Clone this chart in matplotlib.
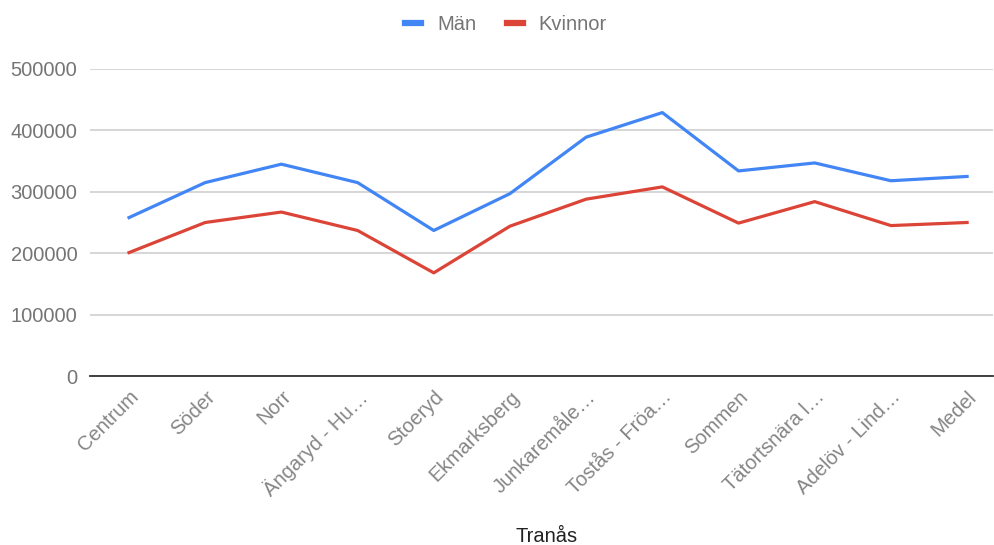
import matplotlib
matplotlib.use("Agg")
import matplotlib.pyplot as plt
from matplotlib.lines import Line2D

categories = ["Centrum", "Söder", "Norr", "Ängaryd - Hu…", "Stoeryd", "Ekmarksberg",
              "Junkaremåle…", "Tostås - Fröa…", "Sommen", "Tätortsnära l…",
              "Adelöv - Lind…", "Medel"]
man = [258000, 315000, 345000, 315000, 237000, 297000, 389000, 429000, 334000, 347000, 318000, 325000]
kvinnor = [201000, 250000, 267000, 237000, 168000, 244000, 288000, 308000, 249000, 284000, 245000, 250000]
yticks = [0, 100000, 200000, 300000, 400000, 500000]

plt.rcParams['font.family'] = ['Liberation Sans', 'DejaVu Sans']

fig = plt.figure(figsize=(9.95, 5.45), dpi=100)
ax = fig.add_axes([90/995, 169/545, (993-90)/995, (376-69)/545])

x = list(range(len(categories)))
blue = "#4285F4"
red = "#DB4437"
ax.plot(x, man, color=blue, lw=2.3, solid_joinstyle='round', zorder=3)
ax.plot(x, kvinnor, color=red, lw=2.3, solid_joinstyle='round', zorder=3)

ax.set_ylim(0, 500000)
ax.set_xlim(-0.512, 11.34)
ax.set_yticks(yticks)
ax.set_yticklabels([str(v) for v in yticks])
ax.yaxis.grid(True, color="#cccccc", lw=1.1)
ax.set_axisbelow(True)
for s in ["top", "right", "left"]:
    ax.spines[s].set_visible(False)
ax.spines["bottom"].set_color("#333333")
ax.spines["bottom"].set_linewidth(1.3)
ax.spines["bottom"].set_zorder(4)
ax.tick_params(axis='both', length=0, labelsize=14.5)
ax.tick_params(axis='y', pad=9, colors="#757575")
ax.tick_params(axis='x', pad=8, colors="#858585")
ax.set_xticks(x)
ax.set_xticklabels(categories, rotation=45, ha='right', rotation_mode='anchor')

fig.text(547/995, 1 - 536/545, "Tranås", ha='center', va='center', fontsize=14.5, color="#222222")

handles = [Line2D([], [], color=blue, lw=4.5), Line2D([], [], color=red, lw=4.5)]
fig.legend(handles, ["Män", "Kvinnor"], loc='center', bbox_to_anchor=(506/995, 1 - 25/545),
           ncol=2, frameon=False, fontsize=14.5, handlelength=0.8, handletextpad=0.8,
           columnspacing=1.5, labelcolor="#757575")

fig.savefig("out.png", dpi=100, facecolor="white")
